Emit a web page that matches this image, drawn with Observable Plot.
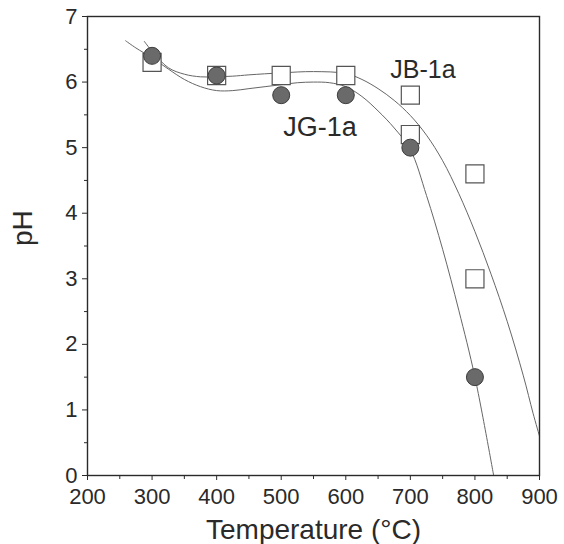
<!DOCTYPE html>
<html>
<head>
<meta charset="utf-8">
<script src="https://cdn.jsdelivr.net/npm/d3@7"></script>
<script src="https://cdn.jsdelivr.net/npm/@observablehq/plot@0.6"></script>
<style>
  html, body { margin: 0; padding: 0; background: #fff; }
</style>
</head>
<body>
<div id="chart"></div>
<script>
// Measured points
const temps = [300, 400, 500, 600, 700, 800];
const jgPH = [6.4, 6.1, 5.8, 5.8, 5.0, 1.5];               // JG-1a (filled circles)
const jbTemps = [300, 400, 500, 600, 700, 700, 800, 800];
const jbPH = [6.3, 6.1, 6.1, 6.1, 5.8, 5.2, 4.6, 3.0];       // JB-1a (open squares)

// Fitted curves
const jbCurveT = [288, 300, 325, 350, 375, 400, 425, 450, 500, 550, 600, 625, 650, 675, 700, 725, 750, 775, 800, 825, 850, 875, 890, 900];
const jbCurvePH = [6.62, 6.47, 6.22, 6.12, 6.08, 6.08, 6.09, 6.11, 6.14, 6.16, 6.13, 6.04, 5.9, 5.72, 5.49, 5.19, 4.8, 4.3, 3.72, 3.07, 2.35, 1.52, 0.95, 0.6];
const jgCurveT = [259, 275, 300, 325, 350, 375, 400, 425, 450, 475, 500, 525, 550, 575, 600, 625, 650, 675, 700, 725, 750, 775, 800, 829];
const jgCurvePH = [6.63, 6.52, 6.37, 6.2, 6.04, 5.93, 5.87, 5.87, 5.9, 5.93, 5.96, 5.99, 6.0, 5.99, 5.93, 5.78, 5.56, 5.3, 4.97, 4.27, 3.45, 2.52, 1.5, 0.0];

// Axis ticks
const xTicks = [200, 300, 400, 500, 600, 700, 800, 900];
const xMinor = [250, 350, 450, 550, 650, 750, 850];
const yTicks = [0, 1, 2, 3, 4, 5, 6, 7];
const yMinor = [0.5, 1.5, 2.5, 3.5, 4.5, 5.5, 6.5];

// Series labels
const seriesLabels = ["JB-1a", "JG-1a"];
const labelT = [669, 503];
const labelPH = [6.18, 5.31];

const jg = temps.map((t, i) => ({t, ph: jgPH[i]}));
const jb = jbTemps.map((t, i) => ({t, ph: jbPH[i]}));
const jbCurve = jbCurveT.map((t, i) => ({t, ph: jbCurvePH[i]}));
const jgCurve = jgCurveT.map((t, i) => ({t, ph: jgCurvePH[i]}));
const labels = seriesLabels.map((s, i) => ({s, t: labelT[i], ph: labelPH[i]}));

const font = "'Liberation Sans', Arial, Helvetica, sans-serif";
const ink = "#2a2a2a";

const chart = Plot.plot({
  width: 564,
  height: 544,
  marginLeft: 87,
  marginRight: 25,
  marginTop: 16,
  marginBottom: 69,
  style: {fontFamily: font, background: "#fff", color: ink},
  x: {domain: [200, 900]},
  y: {domain: [0, 7]},
  marks: [
    Plot.line(jbCurve, {x: "t", y: "ph", curve: "catmull-rom", stroke: "#666", strokeWidth: 1}),
    Plot.line(jgCurve, {x: "t", y: "ph", curve: "catmull-rom", stroke: "#666", strokeWidth: 1}),
    Plot.dot(jb, {x: "t", y: "ph", symbol: "square", r: 10.2, fill: "#fff", stroke: "#555", strokeWidth: 1.2}),
    Plot.dot(jg, {x: "t", y: "ph", symbol: "circle", r: 8.5, fill: "#6a6a6a", stroke: "#3c3c3c", strokeWidth: 1}),
    Plot.text(labels, {x: "t", y: "ph", text: "s", textAnchor: "start", fontSize: (d) => d.s === "JG-1a" ? 27 : 25, fill: ink}),
    Plot.frame({stroke: ink, strokeWidth: 1.4}),
    Plot.axisX({ticks: xTicks, tickSize: 5, tickPadding: 8, fontSize: 22, label: null, stroke: ink, fill: ink}),
    Plot.axisX({ticks: xMinor, tickSize: 4, tickFormat: () => "", label: null, stroke: ink}),
    Plot.axisY({ticks: yTicks, tickSize: 5, tickPadding: 5, fontSize: 22, tickFormat: d3.format("d"), label: null, stroke: ink, fill: ink}),
    Plot.axisY({ticks: yMinor, tickSize: 3, tickFormat: () => "", label: null, stroke: ink}),
    Plot.text(["Temperature (°C)"], {frameAnchor: "bottom", lineAnchor: "bottom", dy: 63, fontSize: 28, fill: ink}),
    Plot.text(["pH"], {frameAnchor: "left", rotate: -90, dx: -64, fontSize: 28, fill: ink})
  ]
});
document.getElementById("chart").appendChild(chart);
</script>
</body>
</html>
